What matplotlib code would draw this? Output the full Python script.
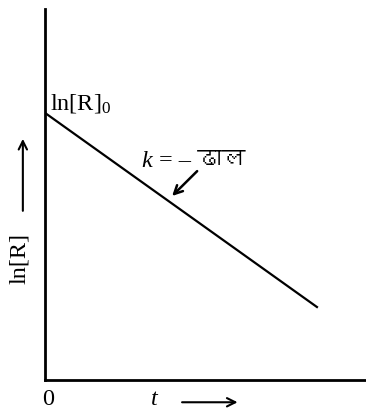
import matplotlib
matplotlib.use('Agg')
import matplotlib.pyplot as plt
from matplotlib import font_manager
from matplotlib.ft2font import FT2Font

# first-order reaction: ln[R] falls linearly with time
t = [0, 8.5]
ln_r = [7.2, 1.95]


def find_devanagari_font():
    for f in font_manager.fontManager.ttflist:
        try:
            if FT2Font(f.fname).get_char_index(0x0922):
                return f.name
        except Exception:
            pass
    return None


deva = find_devanagari_font()
serif = 'Liberation Serif'
plt.rcParams['mathtext.fontset'] = 'custom'
plt.rcParams['mathtext.rm'] = serif
plt.rcParams['mathtext.it'] = serif + ':italic'

fig = plt.figure(figsize=(3.66, 4.10), dpi=100)
ax = fig.add_axes([45 / 366, 29 / 410, 321 / 366, 371 / 410])
ax.set_xlim(0, 10)
ax.set_ylim(0, 10)

ax.plot(t, ln_r, color='black', lw=1.6, solid_capstyle='butt')

for s in ['top', 'right']:
    ax.spines[s].set_visible(False)
for s in ['left', 'bottom']:
    ax.spines[s].set_linewidth(2)
ax.set_xticks([])
ax.set_yticks([])

fs = 17.5
ax.text(0.16, 7.33, r'$\mathrm{ln[R]}_{0}$', fontsize=fs, va='baseline', ha='left')

fams = [serif] + ([deva] if deva else []) + ['DejaVu Sans']
ax.text(3.0, 5.77, '$k$', fontsize=fs, va='baseline', ha='left')
ax.text(3.55, 5.77, '= \u2013 ढाल', family=fams, fontsize=fs, va='baseline', ha='left')
ax.annotate('', xy=(3.96, 4.96), xytext=(4.74, 5.63),
            arrowprops=dict(arrowstyle='->', lw=1.8, color='black',
                            mutation_scale=15, shrinkA=0, shrinkB=0))

# axis labels drawn as plain text with arrows
ax.text(0.09, -0.5, '0', family=serif, fontsize=fs, ha='center', va='center', clip_on=False)
ax.text(3.43, -0.45, '$t$', fontsize=fs, ha='center', va='center', clip_on=False)
ax.annotate('', xy=(6.0, -0.6), xytext=(4.27, -0.6), annotation_clip=False,
            arrowprops=dict(arrowstyle='->', lw=1.5, color='black',
                            mutation_scale=15, shrinkA=0, shrinkB=0))
ax.text(-0.78, 3.3, 'ln[R]', family=serif, fontsize=fs, rotation=90,
        ha='center', va='center', clip_on=False)
ax.annotate('', xy=(-0.69, 6.5), xytext=(-0.69, 4.56), annotation_clip=False,
            arrowprops=dict(arrowstyle='->', lw=1.5, color='black',
                            mutation_scale=15, shrinkA=0, shrinkB=0))

fig.savefig('out.png', dpi=100)
